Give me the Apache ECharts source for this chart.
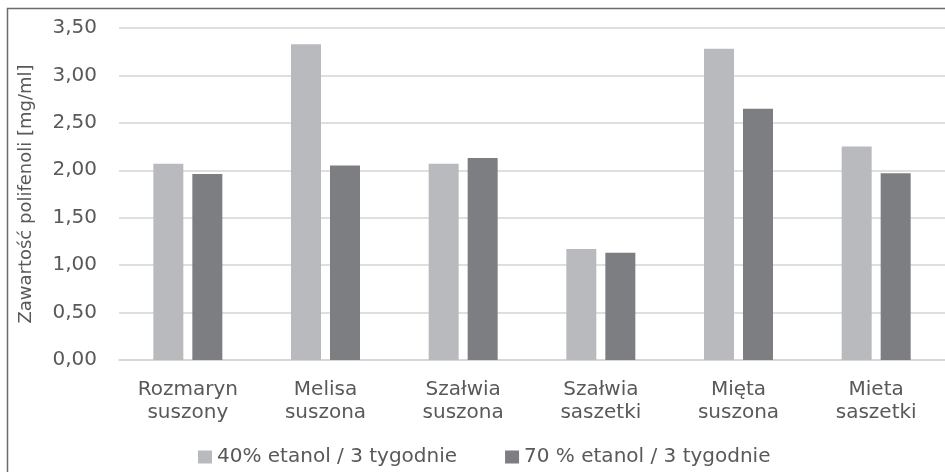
<!DOCTYPE html>
<html>
<head>
<meta charset="utf-8">
<style>
  html, body { margin: 0; padding: 0; background: #ffffff; }
  #chart { width: 945px; height: 472px; }
</style>
<script src="https://cdn.jsdelivr.net/npm/echarts@6/dist/echarts.min.js"></script>
</head>
<body>
<div id="chart"></div>
<script>
// Polyphenol content of herbal extracts, two ethanol concentrations
const categories = [
  'Rozmaryn\nsuszony',
  'Melisa\nsuszona',
  'Szałwia\nsuszona',
  'Szałwia\nsaszetki',
  'Mięta\nsuszona',
  'Mieta\nsaszetki'
];
const seriesNames = ['40% etanol / 3 tygodnie', '70 % etanol / 3 tygodnie'];
const ethanol40 = [2.07, 3.33, 2.07, 1.17, 3.28, 2.25];
const ethanol70 = [1.96, 2.05, 2.13, 1.13, 2.65, 1.97];
const yTicks = { min: 0, max: 3.5, step: 0.5 };
const yTitle = 'Zawartość polifenoli [mg/ml]';

const FONT = 'DejaVu Sans';
const TEXT = '#595959';

const chart = echarts.init(document.getElementById('chart'), null, { renderer: 'canvas' });

chart.setOption({
  animation: false,
  backgroundColor: '#ffffff',
  grid: { left: 119, top: 28, width: 830, height: 332, containLabel: false },
  legend: {
    bottom: 0,
    left: 193,
    itemWidth: 14,
    itemHeight: 13,
    itemGap: 48,
    icon: 'rect',
    textStyle: { fontFamily: FONT, fontSize: 20, color: TEXT },
    data: seriesNames
  },
  xAxis: {
    type: 'category',
    data: categories,
    axisLine: { show: true, lineStyle: { color: '#d4d4d4', width: 1.5 } },
    axisTick: { show: false },
    axisLabel: {
      interval: 0,
      margin: 18,
      fontFamily: FONT,
      fontSize: 20,
      lineHeight: 23,
      color: TEXT
    }
  },
  yAxis: {
    type: 'value',
    min: yTicks.min,
    max: yTicks.max,
    interval: yTicks.step,
    name: yTitle,
    nameLocation: 'middle',
    nameGap: 84,
    nameRotate: 90,
    nameTextStyle: { fontFamily: FONT, fontSize: 18, color: TEXT },
    axisLine: { show: false },
    axisTick: { show: false },
    splitLine: { lineStyle: { color: '#d4d4d4', width: 1.5 } },
    axisLabel: {
      margin: 22,
      fontFamily: FONT,
      fontSize: 20,
      color: TEXT,
      formatter: v => v.toFixed(2).replace('.', ',')
    }
  },
  series: [
    {
      name: seriesNames[0],
      type: 'bar',
      data: ethanol40,
      barWidth: 30,
      barGap: '30%',
      itemStyle: { color: '#b9babe' }
    },
    {
      name: seriesNames[1],
      type: 'bar',
      data: ethanol70,
      barWidth: 30,
      barGap: '30%',
      itemStyle: { color: '#7d7e82' }
    }
  ],
  graphic: [
    {
      type: 'rect',
      silent: true,
      z: 100,
      shape: { x: 7.5, y: 8.5, width: 960, height: 480 },
      style: { fill: 'none', stroke: '#6b6b6b', lineWidth: 1.5 }
    }
  ]
});
</script>
</body>
</html>
